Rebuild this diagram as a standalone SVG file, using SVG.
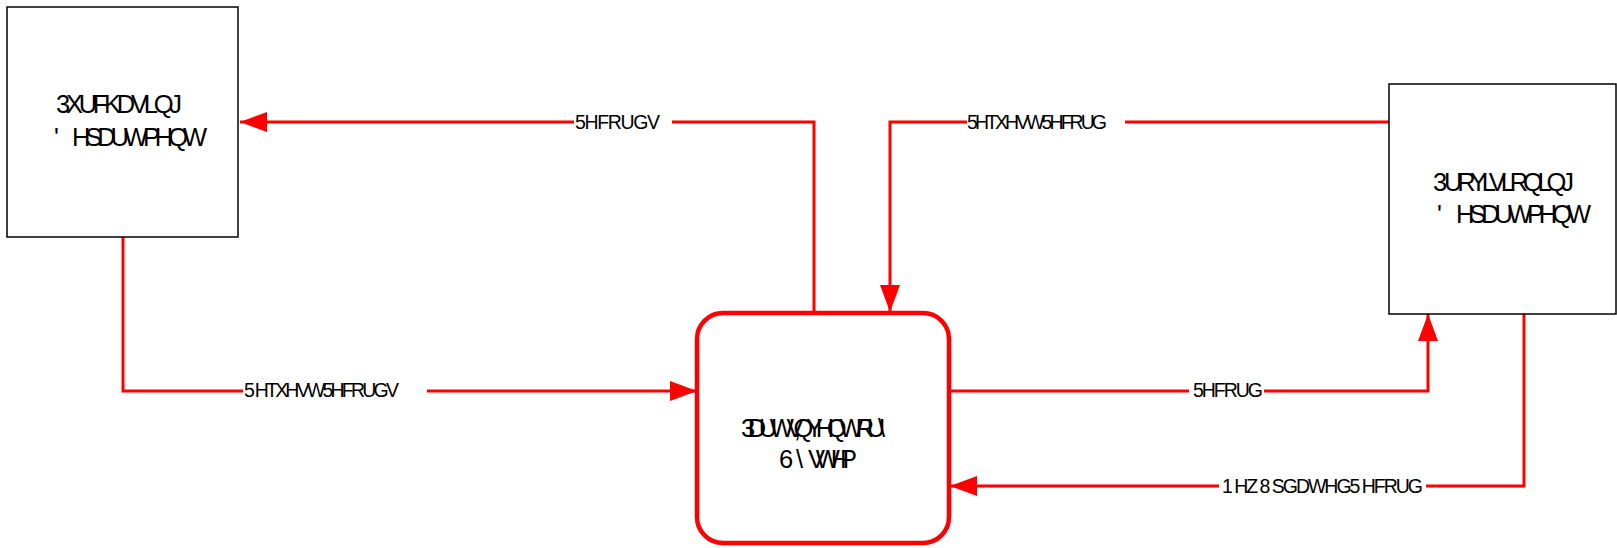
<svg xmlns="http://www.w3.org/2000/svg" width="1617" height="548" viewBox="0 0 1617 548">
<style>
.box{fill:#fff;stroke:#000;stroke-width:1.5}
.cbox{fill:#fff;stroke:#ff0000;stroke-width:4.5}
.nt{font-family:"Liberation Sans",Arial,sans-serif;font-size:25.5px;fill:#000}
.lt{font-family:"Liberation Sans",Arial,sans-serif;font-size:19.5px;fill:#000}
.c{fill:none;stroke:#ff0000;stroke-width:3}
</style>
<defs>
<marker id="ah" markerUnits="userSpaceOnUse" markerWidth="28" markerHeight="22" refX="27" refY="11" orient="auto">
<path d="M0,1 L27,11 L0,21 z" fill="#ff0000"/>
</marker>
</defs>
<g id="connectors">
<path class="c" d="M814,312 V122 H672 M574,122 H240" marker-end="url(#ah)"/>
<path class="c" d="M1389,122 H1125 M967,122 H890 V312" marker-end="url(#ah)"/>
<path class="c" d="M123,237 V391 H243 M427,391 H697" marker-end="url(#ah)"/>
<path class="c" d="M949,391 H1189 M1264,391 H1428 V314" marker-end="url(#ah)"/>
<path class="c" d="M1524,314 V486 H1426 M1219,486 H950" marker-end="url(#ah)"/>
<text class="lt" x="575" y="129" textLength="85">5HFRUGV</text>
<text class="lt" x="967" y="129" textLength="140">5HTXHVW5HFRUG</text>
<text class="lt" x="244" y="397" textLength="155">5 HTXHVW5HFRUGV</text>
<text class="lt" x="1193" y="397" textLength="70">5HFRUG</text>
<text class="lt" x="1222" y="493" textLength="201">1 HZ 8 SGDWHG5 HFRUG</text>
</g>
<g id="purchasing">
<rect class="box" x="7" y="7" width="231" height="230"/>
<text class="nt" x="56" y="113" textLength="126">3XUFKDVLQJ</text>
<text class="nt" y="146"><tspan x="54">'</tspan><tspan x="72" textLength="135">HSDUWPHQW</tspan></text>
</g>
<g id="provisioning">
<rect class="box" x="1389" y="84" width="227" height="230"/>
<text class="nt" x="1433" y="191" textLength="141">3 URYLVLRQLQJ</text>
<text class="nt" y="223"><tspan x="1437">'</tspan><tspan x="1456" textLength="135">HSDUWPHQW</tspan></text>
</g>
<g id="inventory">
<rect class="cbox" x="697" y="313" width="252" height="230" rx="26" ry="26"/>
<text class="nt" x="741" y="437" textLength="144">3DUWV,QYHQWRU\</text>
<text class="nt" y="468"><tspan x="779">6</tspan><tspan x="796">\</tspan><tspan x="808" textLength="49">VWHP</tspan></text>
</g>
</svg>
